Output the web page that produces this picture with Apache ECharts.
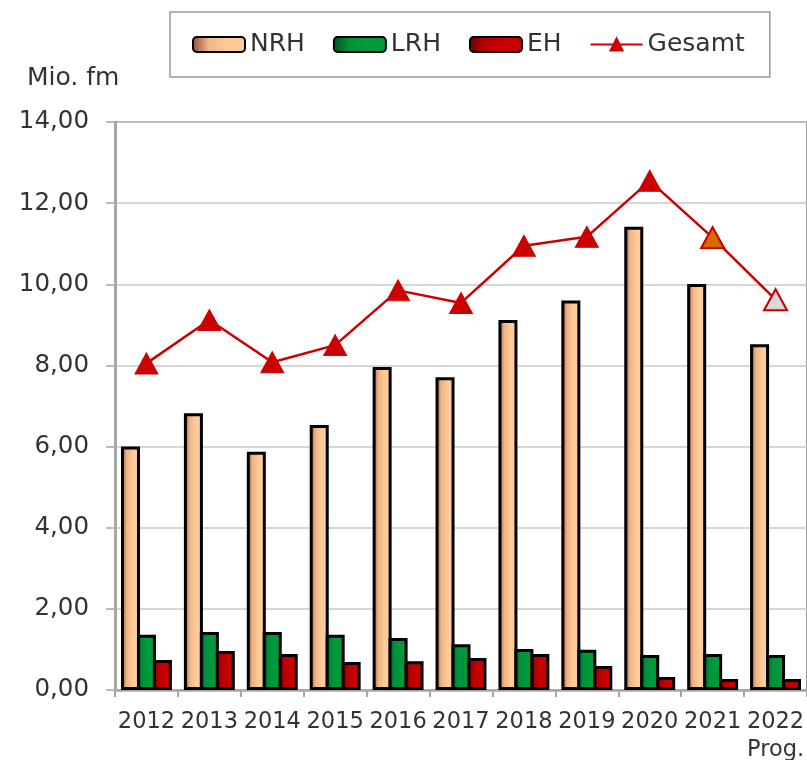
<!DOCTYPE html>
<html>
<head>
<meta charset="utf-8">
<script src="https://cdn.jsdelivr.net/npm/echarts@6/dist/echarts.min.js"></script>
<style>
  html, body { margin: 0; padding: 0; background: #fff; }
  #chart { width: 807px; height: 760px; }
</style>
</head>
<body>
<div id="chart"></div>
<script>
// Jahre (2022 = Prognose)
const years = ['2012', '2013', '2014', '2015', '2016', '2017', '2018', '2019', '2020', '2021', '2022\nProg.']

// Mio. fm
const nrh = [6.00, 6.82, 5.87, 6.53, 7.96, 7.71, 9.12, 9.60, 11.42, 10.01, 8.52]
const lrh = [1.36, 1.43, 1.43, 1.36, 1.28, 1.13, 1.01, 0.99, 0.86, 0.89, 0.86]
const eh = [0.74, 0.96, 0.89, 0.69, 0.71, 0.79, 0.89, 0.59, 0.32, 0.27, 0.27]
const gesamt = [8.05, 9.12, 8.08, 8.50, 9.85, 9.54, 10.95, 11.17, 12.55, 11.15, 9.62]

const yTicks = [0, 2, 4, 6, 8, 10, 12, 14]

const chart = echarts.init(document.getElementById('chart'))

// dunkler linker Rand, dann heller
const grad = (c0, c1, c2) => new echarts.graphic.LinearGradient(0, 0, 1, 0, [
  { offset: 0, color: c0 },
  { offset: 0.3, color: c1 },
  { offset: 0.65, color: c2 },
  { offset: 1, color: c2 }
])

const barStyle = (fill) => ({ color: fill, borderColor: '#000', borderWidth: 3 })

// Marker 2021 orange, 2022 grau
const gesamtData = gesamt.map((v, i) => {
  if (i === 9) return { value: v, itemStyle: { color: '#d46a00', borderColor: '#cc0000', borderWidth: 2 } }
  if (i === 10) return { value: v, itemStyle: { color: '#d9d9d9', borderColor: '#cc0000', borderWidth: 2 } }
  return v
})

const option = {
  animation: false,
  textStyle: { fontFamily: 'DejaVu Sans', color: '#333' },
  title: {
    text: 'Mio. fm',
    left: 22,
    top: 61,
    textStyle: { fontFamily: 'DejaVu Sans', fontSize: 25, fontWeight: 'normal', color: '#333' }
  },
  legend: {
    top: 12,
    left: 170,
    padding: [20, 25, 20, 22],
    borderColor: '#999',
    borderWidth: 1.5,
    backgroundColor: '#fff',
    itemWidth: 52,
    itemHeight: 15,
    itemGap: 28,
    textStyle: { fontSize: 25, color: '#333', fontFamily: 'DejaVu Sans' },
    data: [
      { name: 'NRH', icon: 'roundRect' },
      { name: 'LRH', icon: 'roundRect' },
      { name: 'EH', icon: 'roundRect' },
      { name: 'Gesamt' }
    ]
  },
  grid: {
    left: 115,
    right: 0,
    top: 122,
    bottom: 70,
    outerBoundsMode: 'none',
    show: true,
    borderColor: '#999',
    borderWidth: 2
  },
  xAxis: {
    type: 'category',
    data: years,
    axisLine: { lineStyle: { color: '#a6a6a6', width: 2.5 } },
    axisTick: { show: true, length: 7, lineStyle: { color: '#a6a6a6', width: 2 } },
    axisLabel: { fontSize: 22.5, color: '#333', margin: 18, lineHeight: 28, interval: 0 }
  },
  yAxis: {
    type: 'value',
    min: yTicks[0],
    max: yTicks[yTicks.length - 1],
    interval: 2,
    axisLine: { show: true, lineStyle: { color: '#a6a6a6', width: 3 } },
    axisTick: { show: true, length: 9, lineStyle: { color: '#a6a6a6', width: 1.5 } },
    axisLabel: {
      fontSize: 24.5,
      color: '#333',
      margin: 26,
      formatter: v => v.toFixed(2).replace('.', ',')
    },
    splitLine: { lineStyle: { color: '#c8c8c8', width: 1.5 } }
  },
  series: [
    {
      name: 'NRH',
      type: 'bar',
      data: nrh,
      barWidth: 19,
      barGap: '-16%',
      itemStyle: barStyle(grad('#8b4c3a', '#eeb486', '#ffcc99'))
    },
    {
      name: 'LRH',
      type: 'bar',
      data: lrh,
      barWidth: 19,
      barGap: '-16%',
      itemStyle: barStyle(grad('#00501c', '#00913a', '#009a3c'))
    },
    {
      name: 'EH',
      type: 'bar',
      data: eh,
      barWidth: 19,
      barGap: '-16%',
      itemStyle: barStyle(grad('#6a0000', '#b80000', '#c80000'))
    },
    {
      name: 'Gesamt',
      type: 'line',
      data: gesamtData,
      symbol: 'triangle',
      symbolSize: [23, 21],
      z: 5,
      lineStyle: { color: '#cc0000', width: 2.5 },
      itemStyle: { color: '#cc0000', borderColor: '#cc0000', borderWidth: 1 }
    }
  ]
}

chart.setOption(option)
</script>
</body>
</html>
